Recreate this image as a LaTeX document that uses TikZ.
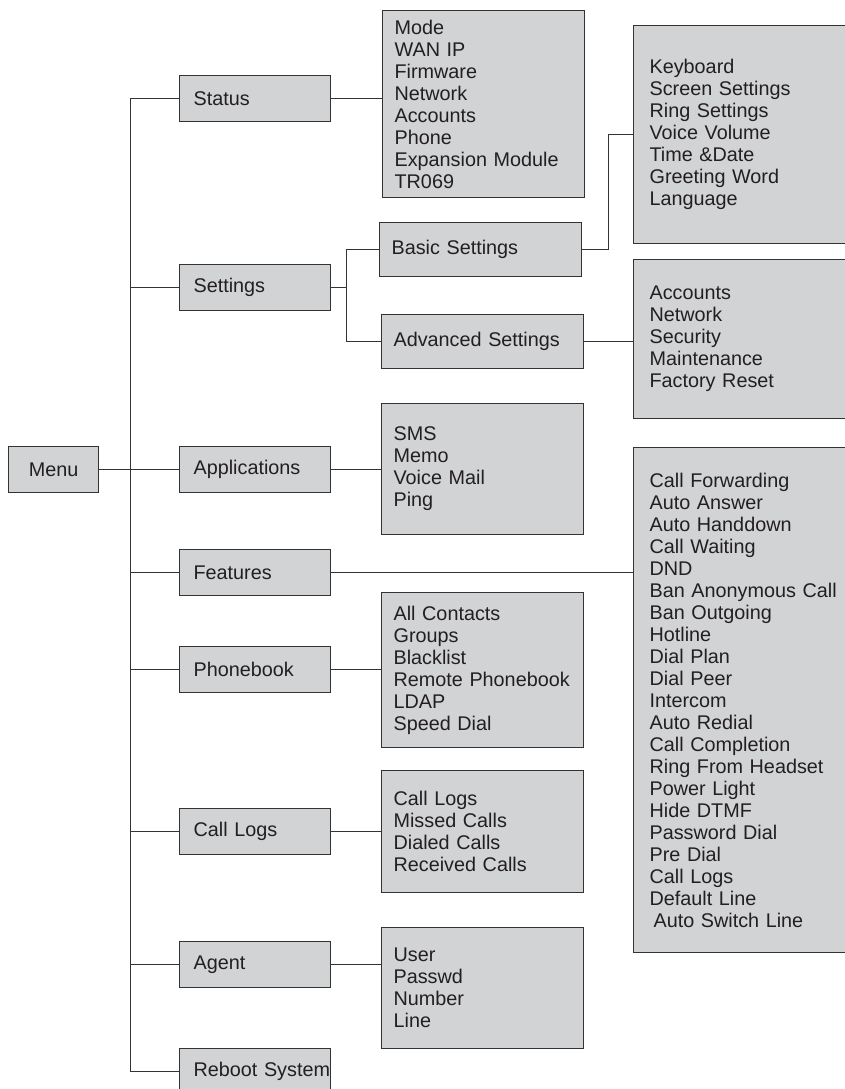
\documentclass[tikz,border=0pt]{standalone}
\usepackage{fontspec}
\setmainfont{Liberation Sans}
\usepackage{tikz}
\usetikzlibrary{positioning}
\definecolor{boxgray}{HTML}{D1D3D4}
\definecolor{linegray}{HTML}{333333}
\definecolor{txtgray}{HTML}{231F20}
\newcommand{\MenuFont}{\fontsize{19.8pt}{22pt}\selectfont\hyphenpenalty=10000\exhyphenpenalty=10000}

\begin{document}
\begin{tikzpicture}[x=1pt,y=-1pt,
    box/.style={draw=linegray, fill=boxgray, line width=1.2pt, rectangle,
        anchor=north west, font=\MenuFont, text=txtgray, inner ysep=0pt},
    topbox/.style={box, minimum width=90pt, minimum height=46pt, inner xsep=0pt},
    itembox/.style={box, align=left, text width=123pt, inner xsep=14pt, minimum height=46pt},
    listbox/.style={box, align=left, text width=178pt, inner xsep=12pt},
    sidebox/.style={box, align=left, text width=190pt, inner xsep=16pt},
    link/.style={draw=linegray, line width=1pt}]
        \useasboundingbox (0,0) rectangle (844,1089);
        % root and first level
        \node[topbox] (menu) at (8,446) {Menu};
        \node[itembox] (status) at (179,75) {Status};
        \node[itembox] (settings) at (179,264) {Settings};
        \node[itembox] (applications) at (179,446) {Applications};
        \node[itembox] (features) at (179,549) {Features};
        \node[itembox] (phonebook) at (179,646) {Phonebook};
        \node[itembox] (calllogs) at (179,808) {Call Logs};
        \node[itembox] (agent) at (179,941) {Agent};
        \node[itembox] (reboot) at (179,1048) {\mbox{Reboot System}};
        % second level
        \node[listbox, minimum height=187pt] (statuslist) at (382,10)
            {Mode\\WAN IP\\Firmware\\Network\\Accounts\\Phone\\Expansion Module\\TR069};
        \node[listbox, minimum height=54pt] (basic) at (379,222) {Basic Settings};
        \node[listbox, minimum height=54pt] (advanced) at (381,314) {Advanced Settings};
        \node[listbox, minimum height=131pt] (applist) at (381,403)
            {SMS\\Memo\\Voice Mail\\Ping};
        \node[listbox, minimum height=155pt] (phonelist) at (381,592)
            {All Contacts\\Groups\\Blacklist\\\mbox{Remote Phonebook}\\LDAP\\Speed Dial};
        \node[listbox, minimum height=122pt] (logslist) at (381,770)
            {Call Logs\\Missed Calls\\Dialed Calls\\Received Calls};
        \node[listbox, minimum height=121pt] (agentlist) at (381,927)
            {User\\Passwd\\Number\\Line};
        % third level (cut by the right edge)
        \node[sidebox, minimum height=218pt] (basiclist) at (633,25)
            {Keyboard\\Screen Settings\\Ring Settings\\Voice Volume\\Time \&Date\\Greeting Word\\Language};
        \node[sidebox, minimum height=159pt] (advlist) at (633,259)
            {Accounts\\Network\\Security\\Maintenance\\Factory Reset};
        \node[sidebox, minimum height=505pt] (featlist) at (633,447)
            {Call Forwarding\\Auto Answer\\Auto Handdown\\Call Waiting\\DND\\Ban Anonymous Call\\Ban Outgoing\\Hotline\\Dial Plan\\Dial Peer\\Intercom\\Auto Redial\\Call Completion\\Ring From Headset\\Power Light\\Hide DTMF\\Password Dial\\Pre Dial\\Call Logs\\Default Line\\\hspace*{4pt}Auto Switch Line};
        % trunk from menu
        \coordinate (trunk) at (130,0);
        \coordinate (fork) at (346,0);
        \draw[link] (menu.east) -- (menu.east -| trunk);
        \draw[link] (trunk |- status.west) -- (trunk |- reboot.west);
        \foreach \n in {status,settings,applications,features,phonebook,calllogs,agent,reboot}
        \draw[link] (trunk |- \n.west) -- (\n.west);
        % submenus
        \draw[link] (status.east) -- (status.east -| statuslist.west);
        \draw[link] (settings.east) -- (settings.east -| fork);
        \draw[link] (basic.west) -- (basic.west -| fork) -- (advanced.west -| fork) -- (advanced.west);
        \draw[link] (basic.east) -- ++(26,0) |- (basiclist.west);
        \draw[link] (advanced.east) -- (advanced.east -| advlist.west);
        \foreach \a/\b in {applications/applist, features/featlist, phonebook/phonelist, calllogs/logslist, agent/agentlist}
        \draw[link] (\a.east) -- (\a.east -| \b.west);
\end{tikzpicture}
\end{document}
